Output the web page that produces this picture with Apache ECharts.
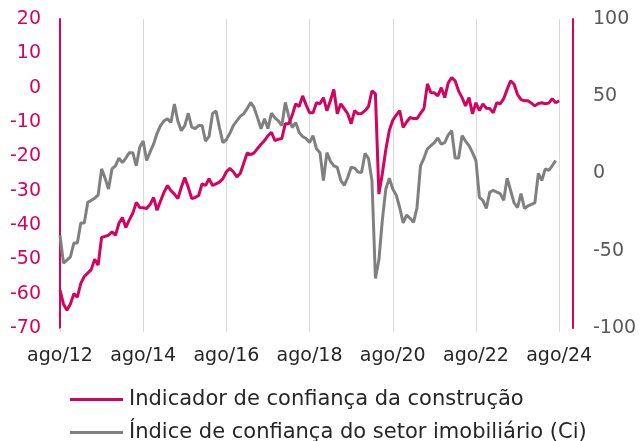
<!DOCTYPE html>
<html><head><meta charset="utf-8">
<script src="https://cdn.jsdelivr.net/npm/echarts@6/dist/echarts.min.js"></script>
<style>html,body{margin:0;padding:0;background:#fff}#c{width:640px;height:441px}</style>
</head><body><div id="c"></div>
<script>
const monthNames = ['jan','fev','mar','abr','mai','jun','jul','ago','set','out','nov','dez'];
const firstYear = 2012, firstMonthIdx = 7, monthCount = 149; // ago/12 .. dez/24
const tickLabels = ['ago/12','ago/14','ago/16','ago/18','ago/20','ago/22','ago/24'];
const seriesNames = ['Indicador de confiança da construção','Índice de confiança do setor imobiliário (Ci)'];
// Indicador de confiança da construção (left axis), ago/12 .. ago/24
const construcao = [
-59,-63,-64.8,-63,-60,-61,-57,-55,-54,-53,-50,-51.7,-43.6,-43.3,-43,-42,-43,-39.5,-37.8,-40.7,-38.5,-36.6,-33.4,-34.9,-35,
-35.2,-34,-32,-35.7,-33,-30.5,-28.5,-30,-31,-32.3,-29,-26.2,-29,-32.3,-32,-31.4,-28,-28.5,-26.5,-28.5,-28,-27.5,-26.5,-24.5,
-23.5,-24.5,-26,-25,-22,-19,-19.5,-19,-17.7,-16.5,-15.4,-14,-13,-15.4,-15,-14.8,-10.5,-10.5,-8,-4.7,-5.5,-2.4,-5,-7.3,-7.3,
-4.4,-4.7,-2.9,-6.7,-3.8,-0.5,-7.6,-4.7,-6.1,-7.6,-10.5,-6.7,-7.6,-7.5,-6.7,-5.5,-0.9,-1.8,-31,-25,-18,-12.5,-9.5,-8,-6.7,
-11.6,-10,-8.7,-9,-9,-7.5,-6.1,1.1,-1.5,-1.5,-2.4,0,-2.9,1.4,2.9,2,-1,-2.9,-5.3,-2.9,-7.6,-4.4,-6.7,-4.7,-6,
-6.1,-7.3,-4.4,-4.7,-3.2,-0.5,2,1,-2,-3.5,-3.8,-3.8,-4.5,-5.3,-4.6,-4.4,-4.7,-4.5,-3.2,-4.4,-3.8
];
// Índice de confiança do setor imobiliário (right axis), ago/12 .. jul/24
const imobiliario = [
-40,-58,-56,-54,-45,-45,-32,-32,-18.7,-17.4,-16,-14,3,-3,-10,3,5,10,7,10,13.5,13.5,5,17,21,
8.4,14,19,26,31,34,35.5,33,45,34,27.7,31,39,30,29,31,31,21,24,38.7,40.6,29.7,20,22,
26,31,34,37,38.7,42,46,42.6,36,29,35.5,29,39,36,34,31,46,37,29.7,33,26.5,24,22.6,20,24.5,
16,13.5,-4.5,13.5,8,5,4,-4.5,-7.7,-2.6,4,3.5,1,0.6,13,9.7,-4.5,-68,-56,-30,-10,-3,-10,-14,-22,
-32,-27,-29,-31.6,-22,5,10,16,18,20,23,19,20,25,27.7,10,10,24.5,21,18,13.5,8.4,-15.5,-17.4,
-22.6,-12,-11,-12,-13,-17.4,-3,-11,-19,-22,-13,-22.6,-21,-20,-19,0,-4.5,3,2,5,8.4
];
const categories = [];
for (let i = 0; i < monthCount; i++) {
  const mi = (firstMonthIdx + i) % 12;
  const yr = firstYear + Math.floor((firstMonthIdx + i) / 12);
  categories.push(monthNames[mi] + '/' + String(yr).slice(2));
}
const PINK = '#d3045f', GRAY = '#808080';
const FONT = 'DejaVu Sans';
const showTick = (i, v) => tickLabels.includes(v);
const legendBase = {
  orient: 'horizontal', left: 65, itemWidth: 53, itemHeight: 3, icon: 'rect',
  textStyle: {fontFamily: FONT, fontSize: 21, color: '#262626', padding: [0,0,0,1]}
};
const chart = echarts.init(document.getElementById('c'), null, {renderer: 'canvas'});
chart.setOption({
  animation: false,
  textStyle: {fontFamily: FONT},
  grid: {left: 60, right: 67, top: 19, bottom: 113, containLabel: false},
  legend: [
    Object.assign({}, legendBase, {top: 384, data: [seriesNames[0]]}),
    Object.assign({}, legendBase, {top: 417, data: [seriesNames[1]]})
  ],
  xAxis: {
    type: 'category', data: categories, boundaryGap: false,
    axisLine: {show: false, onZero: false},
    axisTick: {show: true, interval: showTick, length: 4, lineStyle: {color: '#d9d9d9'}},
    axisLabel: {interval: showTick, color: '#262626', fontSize: 19, fontFamily: FONT, margin: 19},
    splitLine: {show: true, interval: showTick, lineStyle: {color: '#d9d9d9', width: 1}}
  },
  yAxis: [
    {type: 'value', min: -70, max: 20, interval: 10, position: 'left',
     axisLine: {show: true, lineStyle: {color: PINK, width: 2}}, axisTick: {show: false},
     axisLabel: {color: PINK, fontSize: 19, fontFamily: FONT, margin: 19},
     splitLine: {show: false}},
    {type: 'value', min: -100, max: 100, interval: 50, position: 'right',
     axisLine: {show: true, lineStyle: {color: PINK, width: 2}}, axisTick: {show: false},
     axisLabel: {color: '#595959', fontSize: 19, fontFamily: FONT, margin: 20},
     splitLine: {show: false}}
  ],
  series: [
    {name: seriesNames[0], type: 'line', yAxisIndex: 0, data: construcao, showSymbol: false, symbol: 'none',
     lineStyle: {color: PINK, width: 3}, itemStyle: {color: PINK}, z: 3},
    {name: seriesNames[1], type: 'line', yAxisIndex: 1, data: imobiliario, showSymbol: false, symbol: 'none',
     lineStyle: {color: GRAY, width: 3}, itemStyle: {color: GRAY}, z: 2}
  ]
});
</script></body></html>
